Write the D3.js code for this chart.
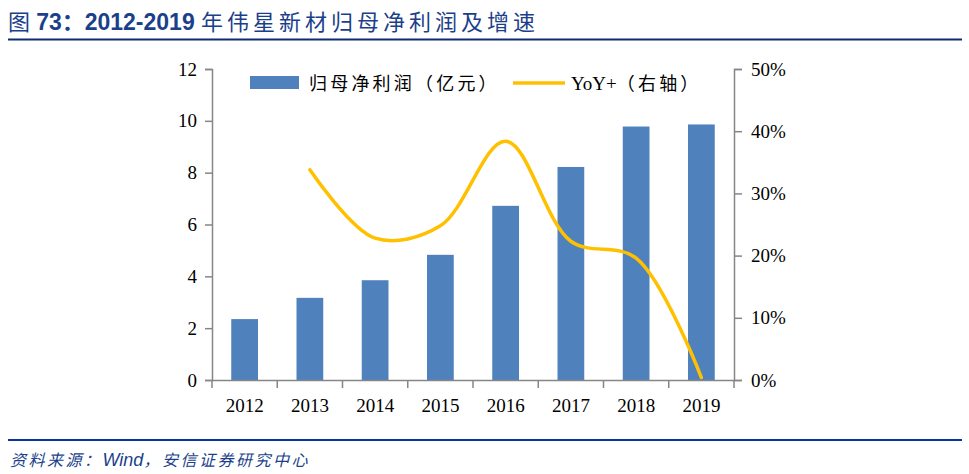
<!DOCTYPE html>
<html><head><meta charset="utf-8">
<script src="https://cdn.jsdelivr.net/npm/d3@7"></script>
<style>
html,body{margin:0;padding:0;background:#fff;}
svg{display:block;}
</style></head>
<body>
<svg id="c" width="969" height="474"></svg>
<script>
const years = ["2012","2013","2014","2015","2016","2017","2018","2019"];
const profit = [2.35, 3.17, 3.85, 4.83, 6.72, 8.22, 9.78, 9.86];
const yoy = [null, 33.8, 22.8, 24.8, 38.4, 22.3, 19.6, 0.4];
const leftTicks = [0,2,4,6,8,10,12];
const rightTicks = [0,10,20,30,40,50];

const svg = d3.select("#c");
const serif = "'Liberation Serif','Times New Roman',serif";
const cjk = "'Liberation Serif','Noto Sans CJK SC',serif";
const axisColor = "#868686";

// title
const title = svg.append("text").attr("x", 8).attr("y", 30)
  .attr("fill", "#1B3F8B").attr("font-size", 22)
  .attr("font-family", "'Liberation Sans',Arial,'Noto Sans CJK SC',sans-serif");
title.append("tspan").attr("font-weight", "normal").text("图 ");
title.append("tspan").attr("font-weight", "bold").attr("font-size", 23).text("73：2012-2019 ");
title.append("tspan").attr("font-weight", "normal").attr("letter-spacing", 4).text("年伟星新材归母净利润及增速");
svg.append("line").attr("x1", 8).attr("x2", 962).attr("y1", 39.5).attr("y2", 39.5)
  .attr("stroke", "#0E2D70").attr("stroke-width", 2);

// footer
svg.append("line").attr("x1", 8).attr("x2", 962).attr("y1", 440).attr("y2", 440)
  .attr("stroke", "#0A32A0").attr("stroke-width", 2);
const foot = svg.append("text").attr("x", 10).attr("y", 466)
  .attr("fill", "#1B3F8B").attr("font-size", 16).attr("font-style", "italic")
  .attr("font-family", "'Liberation Sans',Arial,'Noto Sans CJK SC',sans-serif");
foot.append("tspan").attr("letter-spacing", 2.5).text("资料来源：");
foot.append("tspan").attr("font-size", 18).text("Wind");
foot.append("tspan").attr("letter-spacing", 2.5).text("，安信证券研究中心");

const x0 = 212, x1 = 734, yTop = 69, yBot = 380;
const x = d3.scaleBand().domain(years).range([x0, x1]).paddingInner(0.59).paddingOuter(0.295);
const xb = d3.scaleBand().domain(years).range([x0, x1]);
const yL = d3.scaleLinear().domain([0, 12]).range([yBot, yTop]);
const yR = d3.scaleLinear().domain([0, 50]).range([yBot, yTop]);

// bars
svg.append("g").selectAll("rect").data(years).join("rect")
  .attr("x", d => x(d)).attr("width", x.bandwidth())
  .attr("y", (d, i) => yL(profit[i])).attr("height", (d, i) => yBot - yL(profit[i]))
  .attr("fill", "#4F81BD");

// line
const pts = years.map((d, i) => ({x: xb(d) + xb.bandwidth() / 2, v: yoy[i]})).filter(p => p.v !== null);
const line = d3.line().x(p => p.x).y(p => yR(p.v)).curve(d3.curveCatmullRom.alpha(0.5));
svg.append("path").attr("d", line(pts)).attr("fill", "none")
  .attr("stroke", "#FFC000").attr("stroke-width", 3.5).attr("stroke-linecap", "round");

// axes
function styleAxis(g) {
  g.selectAll("path,line").attr("stroke", axisColor).attr("stroke-width", 1.5);
  g.selectAll("text").attr("font-family", serif).attr("font-size", 19).attr("fill", "#000");
}
const gl = svg.append("g").attr("transform", `translate(${x0},0)`)
  .call(d3.axisLeft(yL).tickValues(leftTicks).tickSize(7).tickSizeOuter(7).tickPadding(8));
styleAxis(gl);
const gr = svg.append("g").attr("transform", `translate(${x1},0)`)
  .call(d3.axisRight(yR).tickValues(rightTicks).tickSize(8).tickSizeOuter(8).tickPadding(9).tickFormat(d => d + "%"));
styleAxis(gr);
const gx = svg.append("g").attr("transform", `translate(0,${yBot})`)
  .call(d3.axisBottom(xb).tickSize(0).tickSizeOuter(0).tickPadding(19));
styleAxis(gx);
// category boundary ticks
gx.selectAll(".bt").data(d3.range(years.length + 1)).join("line")
  .attr("x1", i => x0 + i * xb.step()).attr("x2", i => x0 + i * xb.step())
  .attr("y1", 0).attr("y2", 8).attr("stroke", axisColor).attr("stroke-width", 1.5);

// legend
const lg = svg.append("g");
lg.append("rect").attr("x", 250).attr("y", 76).attr("width", 49).attr("height", 13).attr("fill", "#4F81BD");
lg.append("text").attr("x", 309).attr("y", 90).attr("font-size", 18).attr("font-family", cjk)
  .attr("letter-spacing", 3.2).text("归母净利润（亿元）");
lg.append("line").attr("x1", 513).attr("x2", 565).attr("y1", 83).attr("y2", 83)
  .attr("stroke", "#FFC000").attr("stroke-width", 3.5);
const yt = lg.append("text").attr("x", 571).attr("y", 90).attr("font-size", 18).attr("font-family", cjk);
yt.append("tspan").attr("font-size", 19).text("YoY+");
yt.append("tspan").attr("letter-spacing", 3.2).text("（右轴）");
</script>
</body></html>
